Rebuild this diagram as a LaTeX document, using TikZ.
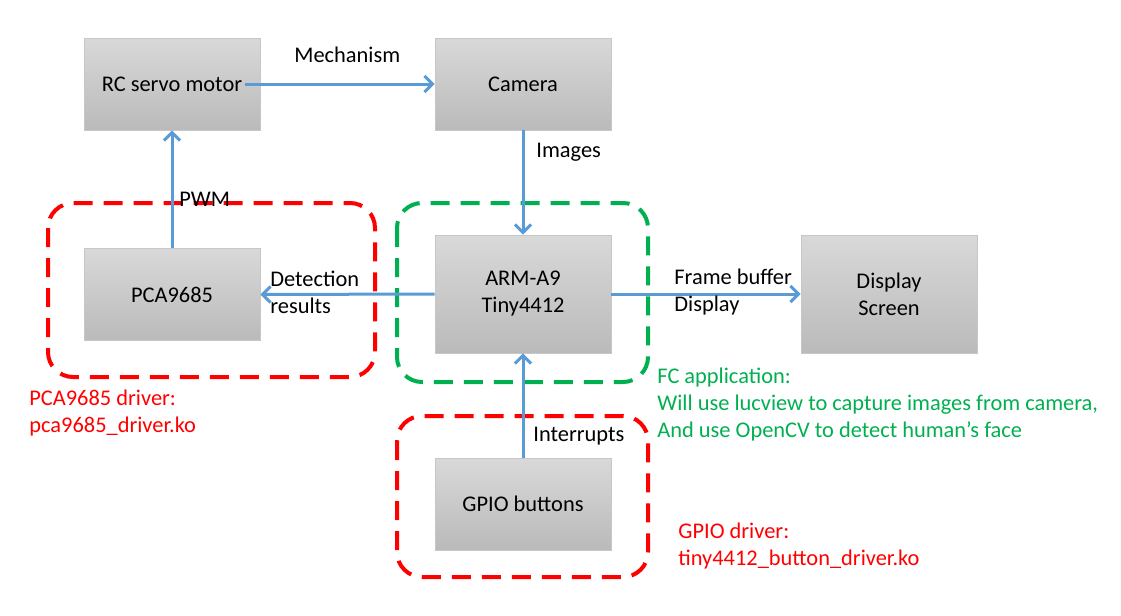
\documentclass[tikz,border=0pt]{standalone}
\usepackage{fontspec}
\setmainfont{Carlito}
\usepackage{xcolor}
\usetikzlibrary{arrows.meta,positioning}

\definecolor{arrowblue}{RGB}{91,155,213}
\definecolor{drvred}{RGB}{255,0,0}
\definecolor{appgreen}{RGB}{0,176,80}

\begin{document}
\begin{tikzpicture}[
    x=0.5pt, y=-0.5pt,
    font=\fontsize{11.2}{13.5}\selectfont,
    block/.style={rectangle, draw=black!22, top color=black!15, bottom color=black!27, minimum width=88pt, minimum height=46pt, align=center},
    tall/.style={minimum height=59pt},
    arrow/.style={-{Straight Barb[length=4pt,width=8pt]}, line width=1.5pt, draw=arrowblue},
    note/.style={inner sep=0pt, anchor=west, align=left},
    group/.style={line width=2pt, dash pattern=on 9.5pt off 5.5pt, rounded corners=12.5pt}
]
\useasboundingbox (0,0) rectangle (1121,616);

% Driver / application groups
\draw[group, drvred] (48,203) rectangle (375,377);
\draw[group, appgreen] (397,203) rectangle (648,382);
\draw[group, drvred] (397,416) rectangle (648,577);

% Blocks
\node[block] (servo) at (172,84) {RC servo motor};
\node[block] (camera) at (523,84) {Camera};
\node[block] (pca) at (172,294.5) {PCA9685};
\node[block, tall] (arm) at (523,294) {ARM-A9\\Tiny4412};
\node[block, tall] (display) at (889,294) {Display\\Screen};
\node[block] (gpio) at (523,504) {GPIO buttons};

% Connections
\draw[arrow] ([xshift=-7.5pt]servo.east) -- (camera.west);
\draw[arrow] (pca.north) -- (servo.south);
\draw[arrow] (camera.south) -- (arm.north);
\draw[arrow] (arm.west) -- (pca.east);
\draw[arrow] (arm.east) -- (display.west);
\draw[arrow] (gpio.north) -- (arm.south);

% Connector labels
\node[note] (mech) at (294,55) {Mechanism};
\node[note] (pwm) at (179,199) {PWM};
\node[note] (img) at (536,152) {Images};
\node[note] (det) at (270,292.5) {Detection\\results};
\node[note] (fb) at (674,292) {Frame buffer\\Display};
\node[note] (intr) at (533,436) {Interrupts};

% Group notes
\node[note, text=drvred] (pcadrv) at (29,413.5) {PCA9685 driver:\\pca9685\_driver.ko};
\node[note, text=appgreen] (fcapp) at (657,405) {FC application:\\Will use lucview to capture images from camera,\\And use OpenCV to detect human’s face};
\node[note, text=drvred] (gpiodrv) at (678,546) {GPIO driver:\\tiny4412\_button\_driver.ko};

\end{tikzpicture}
\end{document}
